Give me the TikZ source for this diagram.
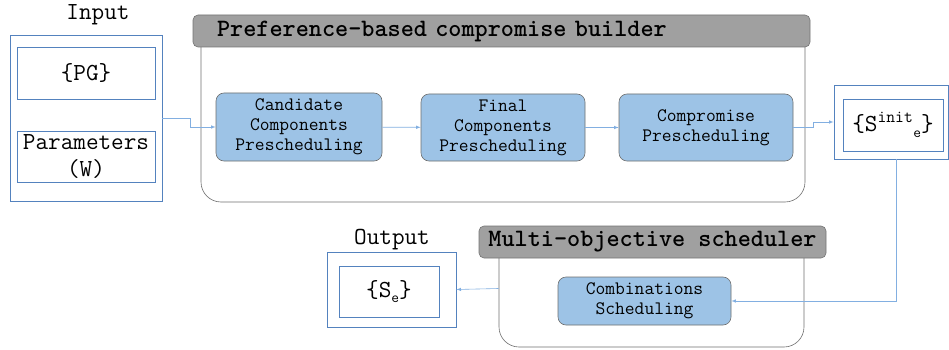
\documentclass[tikz,border=0pt]{standalone}
\usepackage{fontspec}
\usepackage{tikz}

\definecolor{outblue}{RGB}{84,130,190}
\definecolor{linkblue}{RGB}{130,175,225}
\definecolor{stepfill}{RGB}{157,195,230}
\definecolor{stepline}{RGB}{110,110,110}
\definecolor{headfill}{RGB}{160,160,160}
\definecolor{headline}{RGB}{115,115,115}

\tikzset{
	iobox/.style={draw=outblue, line width=0.8pt, rectangle, font=\ttfamily\fontsize{24.5}{27}\selectfont, align=center, inner sep=0pt},
	stepbox/.style={draw=stepline, fill=stepfill, line width=0.6pt, rectangle, rounded corners=8pt, font=\ttfamily\fontsize{19}{20}\selectfont, align=center, inner sep=0pt},
	groupbox/.style={draw=stepline, line width=0.6pt, rectangle, rounded corners=20pt, inner sep=0pt},
	headbox/.style={draw=headline, fill=headfill, line width=0.6pt, rectangle, rounded corners=5pt, font=\ttfamily\bfseries\fontsize{25}{26}\selectfont, inner sep=0pt},
	title/.style={font=\ttfamily\fontsize{24.5}{26}\selectfont, inner sep=0pt},
	link/.style={draw=linkblue, line width=0.6pt, -latex}
}

\begin{document}
\begin{tikzpicture}[x=1pt, y=-1pt]
	\useasboundingbox (0,0) rectangle (949,350);

	% Input
	\node (intitle) [title] at (98,15) {Input};
	\node (inbox) [iobox, minimum width=152pt, minimum height=166pt] at (86,118) {};
	\node (pg) [iobox, minimum width=138pt, minimum height=52pt] at (86,73) {\{PG\}};
	\node (params) [iobox, minimum width=138pt, minimum height=51pt] at (86,156.5) {Parameters\\(W)};

	% Preference-based compromise builder
	\node (prefgroup) [groupbox, minimum width=604pt, minimum height=182pt] at (503,111) {};
	\node (prefhead) [headbox, minimum width=617pt, minimum height=32pt, text width=569pt, inner xsep=24pt, align=left] at (501.5,31) {Preference-based compromise builder};
	\node (cand) [stepbox, minimum width=166pt, minimum height=68pt] at (299,127) {Candidate\\Components\\Prescheduling};
	\node (final) [stepbox, minimum width=164pt, minimum height=67pt] at (503,127.5) {Final\\Components\\Prescheduling};
	\node (comp) [stepbox, minimum width=174pt, minimum height=67pt] at (706,127.5) {Compromise\\Prescheduling};

	% Initial solutions
	\node (sinitbox) [iobox, minimum width=114pt, minimum height=74pt] at (891,122) {};
	\node (sinit) [iobox, minimum width=100pt, minimum height=52pt] at (893,125) {\{S\textsuperscript{init}\raisebox{-6pt}{\fontsize{15}{15}\selectfont e}\}};

	% Multi-objective scheduler
	\node (multigroup) [groupbox, minimum width=305pt, minimum height=117pt] at (651.5,288.5) {};
	\node (multihead) [headbox, minimum width=347pt, minimum height=32pt] at (652.5,242) {Multi-objective scheduler};
	\node (comb) [stepbox, minimum width=173pt, minimum height=48pt] at (644.5,301) {Combinations\\Scheduling};

	% Output
	\node (outtitle) [title] at (392,240) {Output};
	\node (outbox) [iobox, minimum width=129pt, minimum height=75pt] at (391.5,289.5) {};
	\node (se) [iobox, minimum width=100pt, minimum height=51pt] at (389,291.5) {\raisebox{-8pt}{\{S\raisebox{-5pt}{\fontsize{15}{15}\selectfont e}\}}};

	% Arrows
	\draw[link] (inbox.east) -- ++(28,0) |- (cand.west);
	\draw[link] (cand) -- (final);
	\draw[link] (final) -- (comp);
	\draw[link] (comp.east) -- ++(20,0) |- (sinitbox.west);
	\draw[link] ([xshift=5pt]sinitbox.south) |- (comb.east);
	\draw[link] (multigroup.west) -- (outbox.east);
\end{tikzpicture}
\end{document}
